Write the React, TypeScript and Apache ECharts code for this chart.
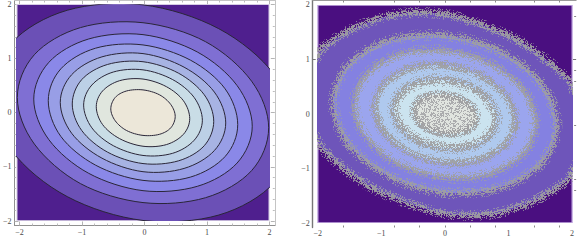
import React, { useEffect, useRef } from "react";
import * as echarts from "echarts";

type Pt = [number, number];

// ----- left panel: contour lines, outermost first -----
const contourA: Pt[] = [[2.4,-0.34],[2.08,0.7],[1.2,1.55],[0,1.99],[-1.2,1.89],[-2.08,1.29],[-2.4,0.34],[-2.08,-0.7],[-1.2,-1.55],[0,-1.99],[1.2,-1.89],[2.08,-1.29]];
const contourB: Pt[] = [[1.99,-0.28],[1.72,0.58],[0.99,1.31],[0,1.66],[-0.99,1.57],[-1.72,1.07],[-1.99,0.28],[-1.72,-0.58],[-0.99,-1.31],[0,-1.66],[0.99,-1.57],[1.72,-1.07]];
const contourC: Pt[] = [[1.73,-0.25],[1.49,0.5],[0.86,1.12],[0,1.44],[-0.86,1.36],[-1.49,0.93],[-1.73,0.25],[-1.49,-0.5],[-0.86,-1.12],[0,-1.44],[0.86,-1.36],[1.49,-0.93]];
const contourD: Pt[] = [[1.5,-0.22],[1.3,0.44],[0.75,0.97],[0,1.25],[-0.75,1.19],[-1.3,0.81],[-1.5,0.22],[-1.3,-0.44],[-0.75,-0.97],[0,-1.25],[0.75,-1.19],[1.3,-0.81]];
const contourE: Pt[] = [[1.31,-0.19],[1.13,0.38],[0.65,0.84],[0,1.09],[-0.65,1.03],[-1.13,0.7],[-1.31,0.19],[-1.13,-0.38],[-0.65,-0.84],[0,-1.09],[0.65,-1.03],[1.13,-0.7]];
const contourF: Pt[] = [[1.12,-0.16],[0.97,0.33],[0.56,0.73],[0,0.94],[-0.56,0.89],[-0.97,0.61],[-1.12,0.16],[-0.97,-0.33],[-0.56,-0.73],[0,-0.94],[0.56,-0.89],[0.97,-0.61]];
const contourG: Pt[] = [[0.94,-0.14],[0.81,0.28],[0.47,0.61],[0,0.79],[-0.47,0.75],[-0.81,0.51],[-0.94,0.14],[-0.81,-0.28],[-0.47,-0.61],[0,-0.79],[0.47,-0.75],[0.81,-0.51]];
const contourH: Pt[] = [[0.74,-0.11],[0.64,0.22],[0.37,0.48],[0,0.62],[-0.37,0.59],[-0.64,0.4],[-0.74,0.11],[-0.64,-0.22],[-0.37,-0.48],[0,-0.62],[0.37,-0.59],[0.64,-0.4]];
const contourI: Pt[] = [[0.51,-0.07],[0.44,0.15],[0.26,0.33],[0,0.42],[-0.26,0.4],[-0.44,0.28],[-0.51,0.07],[-0.44,-0.15],[-0.26,-0.33],[0,-0.42],[0.26,-0.4],[0.44,-0.28]];
const leftContours = [contourA, contourB, contourC, contourD, contourE, contourF, contourG, contourH, contourI];

// ----- right panel: centre lines of the noisy rings -----
const ringA: Pt[] = [[2.24,-0.29],[2.0,0.5],[1.78,0.8],[1.52,1.06],[1.15,1.35],[0.79,1.54],[0.42,1.7],[0,1.83],[-0.47,1.86],[-0.89,1.8],[-1.26,1.66],[-1.52,1.52],[-1.78,1.33],[-2.0,1.08],[-2.24,0.29],[-2.0,-0.5],[-1.78,-0.8],[-1.52,-1.06],[-1.15,-1.35],[-0.79,-1.54],[-0.42,-1.7],[0,-1.83],[0.47,-1.86],[0.89,-1.8],[1.26,-1.66],[1.52,-1.52],[1.78,-1.33],[2.0,-1.08]];
const ringB: Pt[] = [[1.75,-0.2],[1.52,0.54],[0.88,1.14],[0,1.44],[-0.88,1.34],[-1.52,0.89],[-1.75,0.2],[-1.52,-0.54],[-0.88,-1.14],[0,-1.44],[0.88,-1.34],[1.52,-0.89]];
const ringC: Pt[] = [[1.42,-0.16],[1.23,0.44],[0.71,0.92],[0,1.16],[-0.71,1.09],[-1.23,0.72],[-1.42,0.16],[-1.23,-0.44],[-0.71,-0.92],[0,-1.16],[0.71,-1.09],[1.23,-0.72]];
const ringD: Pt[] = [[1.1,-0.13],[0.95,0.34],[0.55,0.71],[0,0.89],[-0.55,0.83],[-0.95,0.55],[-1.1,0.13],[-0.95,-0.34],[-0.55,-0.71],[0,-0.89],[0.55,-0.83],[0.95,-0.55]];
const ringE: Pt[] = [[0.8,-0.09],[0.69,0.24],[0.4,0.5],[0,0.62],[-0.4,0.58],[-0.69,0.39],[-0.8,0.09],[-0.69,-0.24],[-0.4,-0.5],[0,-0.62],[0.4,-0.58],[0.69,-0.39]];
const ringF: Pt[] = [[0.5,-0.06],[0.43,0.13],[0.25,0.28],[0,0.36],[-0.25,0.34],[-0.43,0.23],[-0.5,0.06],[-0.43,-0.13],[-0.25,-0.28],[0,-0.36],[0.25,-0.34],[0.43,-0.23]];
const rightRings = [ringA, ringB, ringC, ringD, ringE, ringF];

const plotSquare: Pt[] = [[-2,-2],[2,-2],[2,2],[-2,2]];

// ----- ticks -----
const labelTicks = [-2, -1, 0, 1, 2];
const leftMinorTicks = [-1.8,-1.6,-1.4,-1.2,-0.8,-0.6,-0.4,-0.2,0.2,0.4,0.6,0.8,1.2,1.4,1.6,1.8];
const rightXTicks = [-1.6, -0.8, -0.4, 0, 0.4, 0.8, 1.4, 1.8];
const rightYTicks = [-1.4, -1.2, -0.2, 0.6, 0.8, 1.8];
const rightYMajor = [1];

// ----- colours -----
const leftColours = ["#6b50b6","#7f6fd3","#8a88e8","#989ee6","#a7b3e3","#bcd0e6","#c9dde6","#e0e6de","#ece7d9"];
const rightColours = ["#6e55ba","#8481e1","#9ba5ee","#afc9ee","#cbe3ef","#e0e4df"];

// A deterministic stipple tile (texture only, it carries no data).
function stipple(density: number, alpha: number): HTMLCanvasElement {
  const size = 160;
  const c = document.createElement("canvas");
  c.width = size; c.height = size;
  const g = c.getContext("2d")!;
  g.fillStyle = `rgba(158,158,161,${alpha})`;
  let s = 2463534242 >>> 0;
  for (let y = 0; y < size; y++) for (let x = 0; x < size; x++) {
    s ^= (s << 13) >>> 0; s >>>= 0; s ^= s >>> 17; s ^= (s << 5) >>> 0; s >>>= 0;
    if (s / 4294967296 < density) g.fillRect(x, y, 1, 1);
  }
  return c;
}

const fmt = (v: number) => (v < 0 ? "\u2212" + Math.abs(v) : String(v));

// Draws the closed curve through the given screen points (Catmull-Rom), as "smooth" would.
function closedCurve(p: number[][]): number[][] {
  const out: number[][] = [];
  const n = p.length;
  for (let i = 0; i < n; i++) {
    const a = p[(i + n - 1) % n], b = p[i], c = p[(i + 1) % n], d = p[(i + 2) % n];
    for (let k = 0; k < 8; k++) {
      const t = k / 8, t2 = t * t, t3 = t2 * t;
      out.push([0, 1].map((j) => 0.5 * (2 * b[j] + (c[j] - a[j]) * t + (2 * a[j] - 5 * b[j] + 4 * c[j] - d[j]) * t2 + (3 * b[j] - a[j] - 3 * c[j] + d[j]) * t3)));
    }
  }
  return out;
}

function polygonSeries(pts: Pt[], xi: number, yi: number, style: any, z: number, curve = true) {
  return {
    type: "custom", coordinateSystem: "cartesian2d", xAxisIndex: xi, yAxisIndex: yi, clip: true, z,
    silent: true, data: pts,
    renderItem: (p: any, api: any) => {
      if (p.dataIndex !== 0) return null;
      const screen = pts.map((q) => api.coord(q));
      return { type: "polygon", shape: { points: curve ? closedCurve(screen) : screen }, style };
    },
  };
}

export default function App() {
  const ref = useRef<HTMLDivElement>(null);
  useEffect(() => {
    const chart = echarts.init(ref.current!, undefined, { renderer: "svg" });
    const grid: any[] = [], xAxis: any[] = [], yAxis: any[] = [], series: any[] = [];
    const font = { fontFamily: "Liberation Serif", fontSize: 8, color: "#4a4a4a" };

    const plot = (left: number, top: number, w: number, h: number) => {
      grid.push({ left, top, width: w, height: h });
      const g = grid.length - 1;
      xAxis.push({ type: "value", gridIndex: g, min: -2, max: 2, show: false });
      yAxis.push({ type: "value", gridIndex: g, min: -2, max: 2, show: false });
      return [xAxis.length - 1, yAxis.length - 1];
    };
    const side = (list: any[], g: number, position: string, range: number[], ticks: number[], len: number,
      tickColor: string, lineColor: string | null, lineW: number, labels?: { margin: number }) => {
      list.push({
        type: "value", gridIndex: g, position, min: range[0], max: range[1],
        axisLine: { show: !!lineColor, onZero: false, lineStyle: { color: lineColor || "#000", width: lineW } },
        axisTick: { show: true, inside: true, length: len, customValues: ticks, lineStyle: { color: tickColor, width: 1 } },
        axisLabel: labels
          ? { show: true, customValues: labelTicks, formatter: fmt, margin: labels.margin, hideOverlap: false, ...font }
          : { show: false },
        splitLine: { show: false },
      });
    };

    // ---------- left panel ----------
    const [lx, ly] = plot(16.7, 4.3, 252.6, 216.7);
    series.push(polygonSeries(plotSquare, lx, ly, { fill: "#4f1f8e", stroke: "#e8e4f0", lineWidth: 1.5 }, 1, false));
    leftContours.forEach((c, i) =>
      series.push(polygonSeries(c, lx, ly, { fill: leftColours[i], stroke: "#2a2638", lineWidth: 1 }, 2 + i)));
    grid.push({ left: 11.5, top: 0.5, width: 263.3, height: 225 });
    const gl = grid.length - 1;
    const rl = [-2.08, 2.083], ry = [-2.083, 2.07];
    side(xAxis, gl, "bottom", rl, labelTicks, 4, "#b5b5b5", "#909090", 1, { margin: 3 });
    side(xAxis, gl, "bottom", rl, leftMinorTicks, 2, "#bdbdbd", null, 1);
    side(xAxis, gl, "top", rl, labelTicks, 4, "#b5b5b5", "#c4c4c4", 1);
    side(xAxis, gl, "top", rl, leftMinorTicks, 2, "#bdbdbd", null, 1);
    side(yAxis, gl, "left", ry, labelTicks, 4, "#b5b5b5", "#909090", 1, { margin: 3 });
    side(yAxis, gl, "left", ry, leftMinorTicks, 2, "#bdbdbd", null, 1);
    side(yAxis, gl, "right", ry, labelTicks, 4, "#b5b5b5", "#c4c4c4", 1);
    side(yAxis, gl, "right", ry, leftMinorTicks, 2, "#bdbdbd", null, 1);

    // ---------- right panel ----------
    const [rx, rYi] = plot(317.7, 5, 254.6, 218);
    series.push(polygonSeries(plotSquare, rx, rYi, { fill: "#4a0f80", stroke: "#cdb8e6", lineWidth: 1.5 }, 1, false));
    rightRings.forEach((c, i) =>
      series.push(polygonSeries(c, rx, rYi, { fill: rightColours[i] }, 2 + i)));
    const fuzz = { image: stipple(0.2, 0.8), repeat: "repeat" };
    const mid = { image: stipple(0.4, 0.8), repeat: "repeat" };
    const core = { image: stipple(0.68, 0.9), repeat: "repeat" };
    series.push(polygonSeries(ringF, rx, rYi, { fill: mid }, 12));
    const widths = [[11, 6], [12, 6], [12, 6], [12, 7], [14, 8], [10, 7]];
    rightRings.forEach((c, i) => {
      series.push(polygonSeries(c, rx, rYi, { fill: "none", stroke: fuzz, lineWidth: widths[i][0] }, 13));
      series.push(polygonSeries(c, rx, rYi, { fill: "none", stroke: core, lineWidth: widths[i][1] }, 14));
    });
    grid.push({ left: 312.7, top: 0.5, width: 263.6, height: 227 });
    const gr = grid.length - 1;
    const rrx = [-2.08, 2.065], rry = [-2.075, 2.08];
    side(xAxis, gr, "bottom", rrx, rightXTicks, 2, "#8a8a8a", null, 1, { margin: 2 });
    side(xAxis, gr, "top", rrx, [...rightXTicks, 0], 2, "#8a8a8a", "#9a9a9a", 1);
    side(yAxis, gr, "left", rry, rightYMajor, 3, "#777777", "#777777", 1.4, { margin: 3 });
    side(yAxis, gr, "right", rry, rightYTicks, 2, "#8a8a8a", null, 1);
    side(yAxis, gr, "right", rry, rightYMajor, 4, "#777777", null, 1);

    chart.setOption({ animation: false, backgroundColor: "#ffffff", grid, xAxis, yAxis, series });
    return () => chart.dispose();
  }, []);
  return <div ref={ref} style={{ position: "fixed", left: 0, top: 0, width: 577, height: 251 }} />;
}
